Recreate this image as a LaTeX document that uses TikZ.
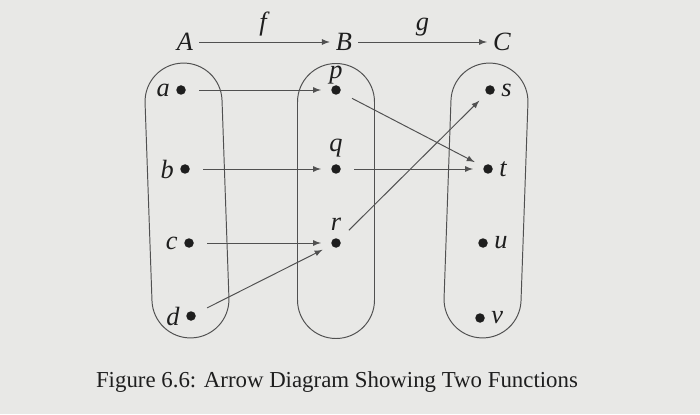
\documentclass[tikz,border=0pt]{standalone}
\usepackage{fontspec}
\setmainfont{Liberation Serif}
\usepackage{tikz}
\usetikzlibrary{positioning}
\usetikzlibrary{calc}

\definecolor{paper}{HTML}{E8E8E6}
\definecolor{ink}{HTML}{1E1E1E}
\definecolor{wire}{HTML}{505050}

\begin{document}
\begin{tikzpicture}[
    every node/.style={text=ink, font=\fontsize{15}{17}\selectfont},
    dot/.style={circle, fill=ink, inner sep=0pt, minimum size=0.19cm, label distance=0.1cm},
    setbox/.style={draw=wire, line width=0.55pt, rounded corners=0.77cm, minimum width=1.54cm, minimum height=5.5cm},
    arr/.style={-latex, draw=wire, line width=0.55pt, shorten <=0.26cm, shorten >=0.2cm}
]
    \fill[paper] (0,0) rectangle (14,8.28);
    \useasboundingbox (0,0) rectangle (14,8.28);

    % the three sets
    \node[setbox, rotate=2] (setA) at (3.74,4.27) {};
    \node[setbox] (setB) at (6.72,4.26) {};
    \node[setbox, rotate=-2] (setC) at (9.72,4.27) {};

    % names and the two functions
    \node (A) at (3.70,7.44) {\textit{A}};
    \node (B) at (6.88,7.44) {\textit{B}};
    \node (C) at (10.04,7.44) {\textit{C}};
    \draw[-latex, draw=wire, line width=0.55pt] (A) -- node[above=0pt] {\textit{f}} (B);
    \draw[-latex, draw=wire, line width=0.55pt] (B) -- node[above=0pt] {\textit{g}} (C);

    % elements
    \node[dot, label=left:{\textit{a}}] (a) at (3.62,6.48) {};
    \node[dot, label=left:{\textit{b}}] (b) at (3.70,4.90) {};
    \node[dot, label=left:{\textit{c}}] (c) at (3.78,3.42) {};
    \node[dot, label=left:{\textit{d}}] (d) at (3.82,1.96) {};

    \node[dot, label={[label distance=-0.1cm]above:{\textit{p}}}] (p) at (6.72,6.48) {};
    \node[dot, label={[label distance=0.02cm]above:{\textit{q}}}] (q) at (6.72,4.90) {};
    \node[dot, label={[label distance=0.02cm]above:{\textit{r}}}] (r) at (6.72,3.42) {};

    \node[dot, label=right:{\textit{s}}] (s) at (9.80,6.48) {};
    \node[dot, label=right:{\textit{t}}] (t) at (9.76,4.90) {};
    \node[dot, label=right:{\textit{u}}] (u) at (9.66,3.42) {};
    \node[dot, label=right:{\textit{v}}] (v) at (9.60,1.92) {};

    % f
    \draw[arr] (a) -- (p);
    \draw[arr] (b) -- (q);
    \draw[arr] (c) -- (r);
    \draw[arr] (d) -- (r);
    % g
    \draw[arr] (p) -- (t);
    \draw[arr] (q) -- (t);
    \draw[arr] (r) -- (s);

    \node[font=\fontsize{13}{15}\selectfont] (caption) at (6.74,0.64) {Figure 6.6: Arrow Diagram Showing Two Functions};
\end{tikzpicture}
\end{document}
